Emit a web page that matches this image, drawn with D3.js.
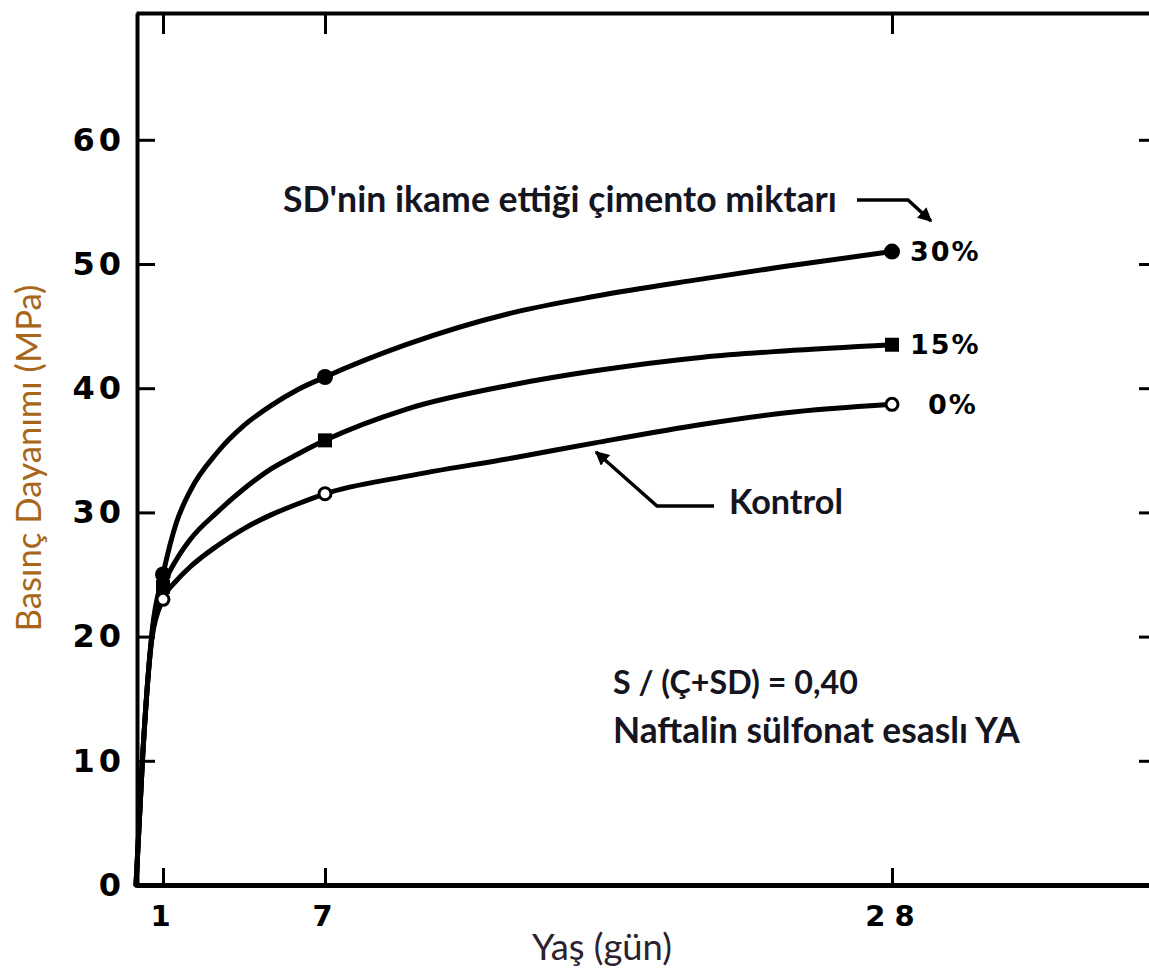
<!DOCTYPE html>
<html>
<head>
<meta charset="utf-8">
<script src="https://cdn.jsdelivr.net/npm/d3@7"></script>
<style>
  html, body { margin: 0; padding: 0; background: #fff; }
  svg { display: block; }
</style>
</head>
<body>
<svg id="chart" width="1149" height="973"></svg>
<script>
// ---- data ----
const ages     = [0, 0.25, 0.6, 1, 1.5, 2, 3, 4, 5, 6, 7, 10, 14, 17, 21, 24, 28];
const str30    = [0, 10.5, 20.5, 25.0, 29.2, 31.7, 34.8, 37.0, 38.6, 39.9, 40.9, 43.5, 46.1, 47.4, 48.8, 49.8, 51.0];
const str15    = [0, 10.5, 20.3, 24.0, 26.2, 27.8, 30.0, 31.9, 33.5, 34.7, 35.8, 38.3, 40.3, 41.4, 42.5, 43.0, 43.5];
const str0     = [0, 10.5, 20.0, 23.0, 24.5, 25.6, 27.3, 28.7, 29.8, 30.7, 31.5, 32.9, 34.4, 35.6, 37.1, 38.0, 38.7];
const markerAges = [1, 7, 28];
const seriesNames = ["30%", "15%", "0%"];
const seriesMarkers = ["filledCircle", "filledSquare", "openCircle"];
const xTicks = [1, 7, 28];
const xTickLabels = ["1", "7", "28"];
const yTicks = [0, 10, 20, 30, 40, 50, 60];
const xTitle = "Yaş (gün)";
const yTitle = "Basınç Dayanımı (MPa)";
const annotTop = "SD'nin ikame ettiği çimento miktarı";
const annotControl = "Kontrol";
const annotRatio = "S / (Ç+SD) = 0,40";
const annotAdmix = "Naftalin sülfonat esaslı YA";

const seriesValues = [str30, str15, str0];

const svg = d3.select("#chart");
svg.append("rect").attr("width", 1149).attr("height", 973).attr("fill", "#fff");

const pLeft = 136, pRight = 1152, pTop = 13, pBottom = 885;
const x = d3.scaleLinear().domain([0, (pRight - pLeft) / 27.0]).range([pLeft, pRight]);
const y = d3.scaleLinear().domain([0, (pBottom - pTop) / 12.42]).range([pBottom, pTop]);

const defs = svg.append("defs");
defs.append("marker").attr("id", "arrow").attr("viewBox", "0 0 10 10")
  .attr("refX", 9).attr("refY", 5).attr("markerWidth", 4).attr("markerHeight", 4)
  .attr("orient", "auto-start-reverse")
  .append("path").attr("d", "M0,0 L10,5 L0,10 z").attr("fill", "#000");

// ---- axes ----
const numFont = "'DejaVu Sans', sans-serif";

const gBottom = svg.append("g").attr("transform", `translate(0,${pBottom})`)
  .call(d3.axisBottom(x).tickValues(xTicks).tickFormat((d, i) => xTickLabels[i])
    .tickSizeInner(-17).tickSizeOuter(0).tickPadding(20));
gBottom.select(".domain").attr("stroke-width", 5).attr("stroke", "#000");
gBottom.selectAll(".tick line").attr("stroke-width", 3).attr("stroke", "#000");
gBottom.selectAll(".tick text").attr("font-family", numFont).attr("font-weight", "bold")
  .attr("font-size", 29).attr("fill", "#000")
  .attr("letter-spacing", (d) => d === 28 ? 9 : 0)
  .attr("dx", (d) => d === 28 ? 2 : -3);

const gTop = svg.append("g").attr("transform", `translate(0,${pTop})`)
  .call(d3.axisTop(x).tickValues(xTicks).tickFormat("").tickSizeInner(-21).tickSizeOuter(0));
gTop.select(".domain").attr("stroke-width", 4).attr("stroke", "#000");
gTop.selectAll(".tick line").attr("stroke-width", 3).attr("stroke", "#000");

const gLeft = svg.append("g").attr("transform", `translate(${pLeft + 1},0)`)
  .call(d3.axisLeft(y).tickValues(yTicks).tickFormat(d3.format("d"))
    .tickSizeInner(-18).tickSizeOuter(0).tickPadding(12));
gLeft.select(".domain").attr("stroke-width", 4).attr("stroke", "#000");
gLeft.selectAll(".tick line").attr("stroke-width", 3).attr("stroke", "#000");
gLeft.selectAll(".tick text").attr("font-family", numFont).attr("font-weight", "bold")
  .attr("font-size", 32).attr("fill", "#000").attr("letter-spacing", 4);

const gRight = svg.append("g").attr("transform", `translate(${pRight},0)`)
  .call(d3.axisRight(y).tickValues(yTicks.filter(d => d > 0)).tickFormat("")
    .tickSizeInner(-13).tickSizeOuter(0));
gRight.selectAll(".tick line").attr("stroke-width", 3).attr("stroke", "#000");

// ---- curves ----
const line = d3.line().x(d => x(d[0])).y(d => y(d[1])).curve(d3.curveMonotoneX);
seriesValues.forEach((vals) => {
  const pts = ages.map((a, i) => [a, vals[i]]);
  svg.append("path").datum(pts).attr("d", line)
    .attr("fill", "none").attr("stroke", "#000").attr("stroke-width", 5)
    .attr("stroke-linejoin", "round").attr("stroke-linecap", "round");
});

// ---- markers ----
seriesValues.forEach((vals, si) => {
  const pts = ages.map((a, i) => [a, vals[i]]).filter(p => markerAges.includes(p[0]));
  const g = svg.append("g");
  const type = seriesMarkers[si];
  if (type === "filledSquare") {
    g.selectAll("rect").data(pts).enter().append("rect")
      .attr("x", d => x(d[0]) - 7).attr("y", d => y(d[1]) - 7)
      .attr("width", 14).attr("height", 14).attr("fill", "#000");
  } else {
    g.selectAll("circle").data(pts).enter().append("circle")
      .attr("cx", d => x(d[0])).attr("cy", d => y(d[1]))
      .attr("r", type === "openCircle" ? 6 : 8)
      .attr("fill", type === "openCircle" ? "#fff" : "#000")
      .attr("stroke", "#000").attr("stroke-width", type === "openCircle" ? 3 : 0);
  }
});

// ---- series labels at day 28 ----
const lastIdx = ages.length - 1;
const labelDx = [18, 18, 36];
seriesValues.forEach((vals, si) => {
  svg.append("text").attr("x", x(ages[lastIdx]) + labelDx[si]).attr("y", y(vals[lastIdx]))
    .attr("dy", "0.36em")
    .attr("font-family", numFont).attr("font-weight", "bold").attr("font-size", 27)
    .attr("letter-spacing", 2).attr("fill", "#000").text(seriesNames[si]);
});

// ---- text annotations ----
const txtFont = "Lato, 'Open Sans', sans-serif";
function fit(sel, w) {
  const fs = parseFloat(sel.attr("font-size"));
  const len = sel.node().getComputedTextLength();
  sel.attr("font-size", fs * w / len);
  return sel;
}
function addText(str, xx, yy, w, fs, color, weight) {
  const t = svg.append("text").attr("x", xx).attr("y", yy)
    .attr("font-family", txtFont).attr("font-weight", weight || "bold")
    .attr("font-size", fs).attr("fill", color || "#15151f").text(str);
  return fit(t, w);
}
addText(annotTop, 283, 212, 554, 30);
addText(annotControl, 729, 514, 114, 30);
addText(annotRatio, 613, 694, 245, 30);
addText(annotAdmix, 613, 743, 407, 30);
addText(xTitle, 532, 960, 140, 30, "#2c2230", "normal");

const yt = svg.append("text").attr("transform", "translate(41,458) rotate(-90)")
  .attr("text-anchor", "middle").attr("font-family", txtFont).attr("font-weight", "normal")
  .attr("font-size", 26).attr("fill", "#a8661a").text(yTitle);
fit(yt, 347);

// ---- leader lines ----
const leader = d3.line();
svg.append("path").attr("d", leader([[857, 200], [908, 200], [931, 221]]))
  .attr("fill", "none").attr("stroke", "#000").attr("stroke-width", 3.5)
  .attr("marker-end", "url(#arrow)");
svg.append("path").attr("d", leader([[714, 506], [657, 506], [596, 452]]))
  .attr("fill", "none").attr("stroke", "#000").attr("stroke-width", 3.5)
  .attr("marker-end", "url(#arrow)");
</script>
</body>
</html>
